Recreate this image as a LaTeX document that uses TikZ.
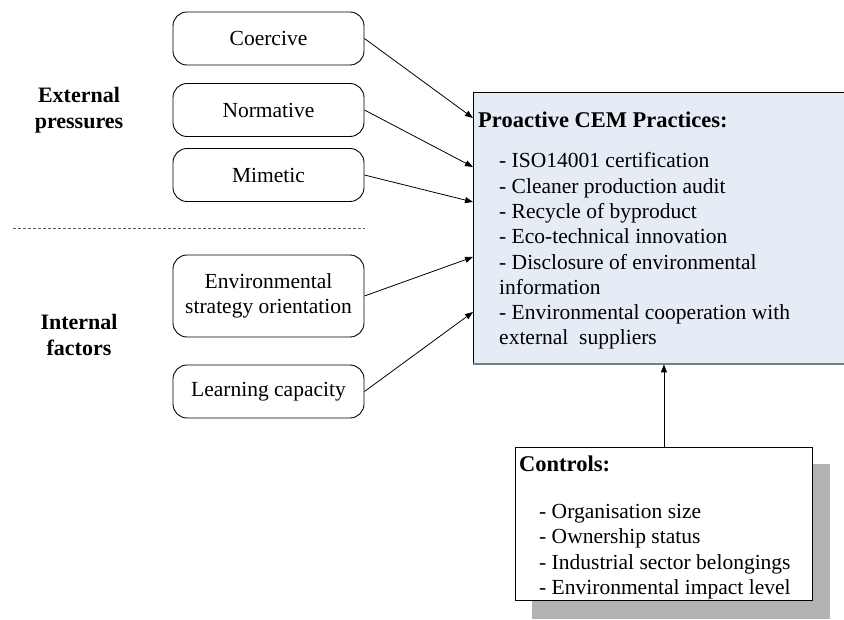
\documentclass[tikz,border=0pt]{standalone}
\usepackage{fontspec}
\setmainfont{Liberation Serif}
\usetikzlibrary{arrows.meta,calc}
\definecolor{cemfill}{RGB}{230,236,246}
\definecolor{cemedge}{RGB}{120,125,130}
\definecolor{shadowgray}{RGB}{178,178,178}
\definecolor{divider}{RGB}{90,90,90}
\begin{document}
\begin{tikzpicture}[x=1pt,y=-1pt,
  every node/.style={font=\fontsize{21.5}{25.3}\selectfont, inner sep=0pt},
  factor/.style={draw, rounded corners=14pt, line width=0.9pt,
    minimum width=191pt, minimum height=53pt, align=center},
  heading/.style={font=\fontsize{22}{26.5}\selectfont\bfseries, align=center},
  boxtitle/.style={font=\fontsize{22.5}{26}\selectfont\bfseries},
  link/.style={-{Triangle[length=8pt,width=6pt]}, line width=0.8pt},
]
\useasboundingbox (0,0) rectangle (844,620);

% group headings and divider (base anchor = baseline of the last line)
\node[heading, anchor=base] (ext) at (79,129) {External\\pressures};
\node[heading, anchor=base] (int) at (79,356) {Internal\\factors};
\draw[dashed, dash pattern=on 3pt off 2pt, line width=0.6pt, divider] (13,228) -- (365,228);

% antecedent boxes
\node[factor] (coe) at (268.5,38.5) {Coercive};
\node[factor] (nor) at (268.5,110) {Normative};
\node[factor] (mim) at (268.5,175) {Mimetic};
\node[factor, minimum height=82pt] (env) at (268.5,296) {Environmental\\strategy orientation};
\node[factor] (lea) at (268.5,391.5) {Learning capacity};

% proactive CEM practices box
\node[fill=cemfill, anchor=north west, minimum width=380pt, minimum height=271pt] (cem) at (473,93) {};
\draw[line width=1pt] (cem.south west) -- (cem.north west) -- (cem.north east);
\draw[line width=2pt, cemedge] (cem.south west) -- (cem.south east);
\node[boxtitle, anchor=base west] (cemtitle) at (478,127.7) {Proactive CEM Practices:};
\node[anchor=base west, align=left] (cemlist) at (499,345)
  {- ISO14001 certification\\
   - Cleaner production audit\\
   - Recycle of byproduct\\
   - Eco-technical innovation\\
   - Disclosure of environmental\\
   information\\
   - Environmental cooperation with\\
   external~ suppliers};

% controls box with drop shadow
\fill[shadowgray] (532,464) rectangle (830,619);
\node[draw, fill=white, line width=0.9pt, anchor=north west,
  minimum width=297pt, minimum height=153pt] (ctl) at (515,447) {};
\node[boxtitle, anchor=base west] (ctltitle) at (519,471.7) {Controls:};
\node[anchor=base west, align=left] (ctllist) at (539,594.3)
  {- Organisation size\\
   - Ownership status\\
   - Industrial sector belongings\\
   - Environmental impact level};

% connectors
\draw[link] (coe.east) -- ($(cem.north west)+(0,25)$);
\draw[link] (nor.east) -- ($(cem.north west)+(0,74)$);
\draw[link] (mim.east) -- ($(cem.north west)+(0,109)$);
\draw[link] (env.east) -- ($(cem.north west)+(0,164)$);
\draw[link] (lea.east) -- ($(cem.north west)+(0,219)$);
\draw[link] (ctl.north) -- (ctl.north |- cem.south);
\end{tikzpicture}
\end{document}
